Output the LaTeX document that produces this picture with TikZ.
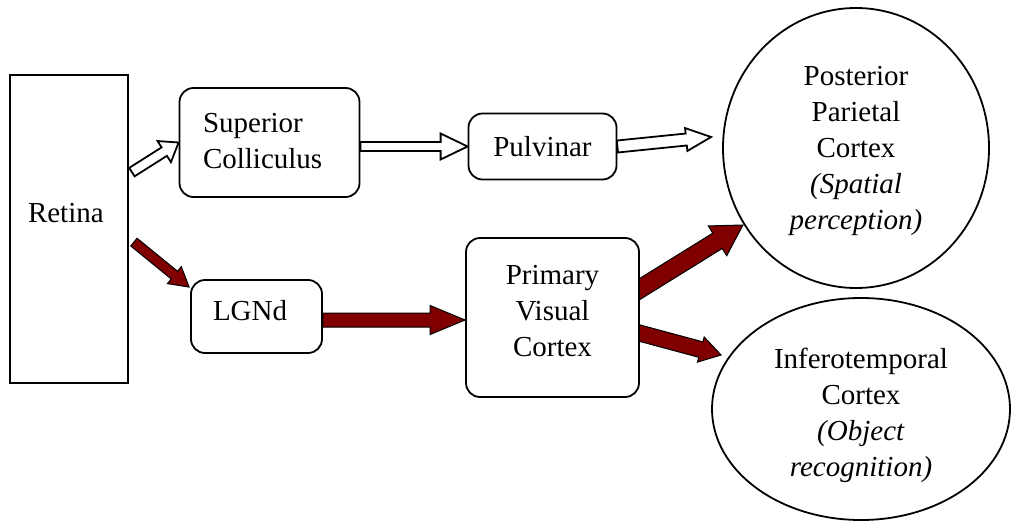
\documentclass[tikz,border=0pt]{standalone}
\usepackage{fontspec}
\setmainfont{Liberation Serif}
\usetikzlibrary{calc,shapes.geometric,backgrounds}
\definecolor{maroonred}{RGB}{128,0,0}
% block arrow: style, tail, tip, half shaft width, half head width, head length
\newcommand\mkblockarrow[6]{%
  \coordinate (bah) at ($(#3)!#6!(#2)$);
  \draw[#1] ($(#2)!#4!90:(#3)$) -- ($(bah)!#4!-90:(#2)$) -- ($(bah)!#5!-90:(#2)$)
    -- (#3) -- ($(bah)!#5!90:(#2)$) -- ($(bah)!#4!90:(#2)$) -- ($(#2)!#4!-90:(#3)$) -- cycle;}
\begin{document}
\begin{tikzpicture}[x=1pt,y=-1pt,
  box/.style={draw, line width=1.8pt, fill=white, inner sep=0pt, align=center,
    font=\fontsize{29pt}{36pt}\selectfont},
  rbox/.style={box, rounded corners=14pt},
  oval/.style={box, ellipse},
  hollow/.style={draw=black, fill=white, line width=1.8pt, line join=miter},
  redarrow/.style={draw=black, fill=maroonred, line width=1pt, line join=miter}]
\useasboundingbox (0,0) rectangle (1012,522);

\node[box, minimum width=118pt, minimum height=308pt, text depth=32pt,
  text width=82pt, align=left] (retina) at (69,229) {Retina};
\node[rbox, minimum width=180pt, minimum height=109pt, text depth=40pt,
  text width=133pt, align=left] (sc) at (269.5,142.5) {Superior\\Colliculus};
\node[rbox, minimum width=148pt, minimum height=66pt] (pulv) at (542.5,146.5) {Pulvinar};
\node[rbox, minimum width=131pt, minimum height=73pt, text depth=12pt,
  text width=87pt, align=left] (lgnd) at (256.5,316.5) {LGNd};
\node[rbox, minimum width=173pt, minimum height=159pt, text depth=12.8pt] (pvc) at (552.5,317.5)
  {Primary\\Visual\\Cortex};
\node[oval, minimum width=266pt, minimum height=280pt, text height=168.3pt] (ppc) at (856,148)
  {Posterior\\Parietal\\Cortex\\\textit{(Spatial}\\\textit{perception)}};
\node[oval, minimum width=298pt, minimum height=222pt, text height=140.3pt] (itc) at (861,409)
  {Inferotemporal\\Cortex\\\textit{(Object}\\\textit{recognition)}};

\begin{pgfonlayer}{background}
\coordinate (a1s) at ($(retina.north east)+(3,98)$);
\mkblockarrow{hollow}{a1s}{sc.west}{5pt}{12.5pt}{17pt}
\coordinate (a2s) at (sc.east |- pulv.west);
\mkblockarrow{hollow}{a2s}{pulv.west}{4.5pt}{13pt}{27pt}
\coordinate (a3e) at ($(ppc.west)+(-11,-11)$);
\mkblockarrow{hollow}{pulv.east}{a3e}{6pt}{11.5pt}{25pt}
\coordinate (a4s) at ($(retina.north east)+(5,168)$);
\coordinate (a4e) at ($(lgnd.north west)+(-1,8)$);
\mkblockarrow{redarrow}{a4s}{a4e}{5pt}{11pt}{19pt}
\coordinate (a5s) at ($(lgnd.east)+(0,3.5)$);
\coordinate (a5e) at (pvc.west |- a5s);
\mkblockarrow{redarrow}{a5s}{a5e}{7pt}{14.5pt}{35pt}
\coordinate (a6s) at ($(pvc.east)+(-9,-23)$);
\coordinate (a6e) at ($(ppc.center)+(-113,77)$);
\mkblockarrow{redarrow}{a6s}{a6e}{9pt}{17.5pt}{30pt}
\coordinate (a7s) at ($(pvc.east)+(-10,13)$);
\coordinate (a7e) at ($(itc.west)+(10,-54)$);
\mkblockarrow{redarrow}{a7s}{a7e}{8pt}{13pt}{21pt}
\end{pgfonlayer}
\end{tikzpicture}
\end{document}
